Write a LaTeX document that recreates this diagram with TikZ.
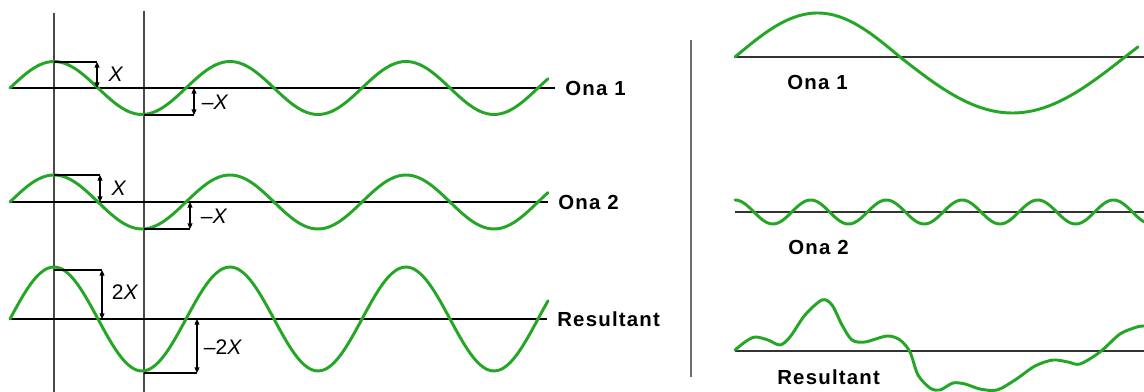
\documentclass[tikz,border=0pt]{standalone}
\usepackage{fontspec}
\setmainfont{Liberation Sans}
\usetikzlibrary{arrows.meta}
\definecolor{wavegreen}{HTML}{26A626}
\definecolor{axisgray}{HTML}{333333}
\definecolor{guidegray}{HTML}{4A4A4A}
\tikzset{wave/.style={wavegreen,line width=2.1pt,line join=round,line cap=round},
 axisline/.style={black,line width=2pt},
 thinaxis/.style={axisgray,line width=1.4pt},
 guide/.style={guidegray,line width=1pt},
 bracket/.style={black,line width=.9pt},
 ampmeasure/.style={bracket,{Triangle[length=4pt,width=3.5pt]}-{Triangle[length=4pt,width=3.5pt]}},
 wavelabel/.style={anchor=west,inner sep=0pt,text=black,
 font=\fontsize{14.5}{16}\selectfont\bfseries\addfontfeature{LetterSpace=6}},
 amplabel/.style={inner sep=0pt,text=black,font=\fontsize{15}{17}\selectfont}}
\newcommand{\leftwave}[5]{%
 \coordinate (#1s) at (10,#2);
 \coordinate (#1e) at (#4,#2);
 \draw[axisline] (#1s) -- (#1e);
 \draw[wave] plot[domain=10:548,samples=160] (\x,{#2-#3*sin(2.04545*(\x-10))});
 \node[wavelabel] (#1lab) at ([xshift=.25cm]#1e) {#5};}
\newcommand{\ampmark}[7]{%
 \coordinate (#1p) at (#2,#3);
 \coordinate (#1t) at (#4,#3);
 \coordinate (#1a) at (#4,#5);
 \draw[bracket] (#1p) -- (#1t);
 \draw[ampmeasure] (#1t) -- (#1a);
 \node[amplabel] (#1lab) at #6 {#7};}

\begin{document}
\begin{tikzpicture}[x=.025cm,y=-.025cm]
 \useasboundingbox (0,0) rectangle (1144,392);
 \begin{scope}
  \coordinate (g1t) at (54,13);
  \coordinate (g1b) at (54,392);
  \coordinate (g2t) at (144,11);
  \coordinate (g2b) at (144,392);
  \draw[guide] (g1t) -- (g1b) (g2t) -- (g2b);
  \leftwave{a}{88}{26.5}{555}{Ona 1}
  \leftwave{b}{202}{27}{548}{Ona 2}
  \leftwave{c}{319}{52}{547}{Resultant}
  \ampmark{ap}{54}{62}{97}{88}{(116,74)}{\textit{X}}
  \ampmark{an}{144}{115}{194}{88}{(215,102)}{\textendash\textit{X}}
  \ampmark{bp}{54}{175}{100}{202}{(119,188)}{\textit{X}}
  \ampmark{bn}{144}{229}{190}{202}{(214,216)}{\textendash\textit{X}}
  \ampmark{cp}{54}{270}{102}{319}{(125,292)}{2\textit{X}}
  \ampmark{cn}{144}{373}{197}{319}{(223,347)}{\textendash2\textit{X}}
 \end{scope}
 \coordinate (divt) at (691,40);
 \coordinate (divb) at (691,377);
 \draw[guide,guidegray!80] (divt) -- (divb);
 \begin{scope}
  \coordinate (r1s) at (735,57);
  \coordinate (r1e) at (1144,57);
  \coordinate (r2s) at (735,212);
  \coordinate (r2e) at (1144,212);
  \coordinate (r3s) at (735,351);
  \coordinate (r3e) at (1144,351);
  \draw[thinaxis] (r1s) -- (r1e) (r2s) -- (r2e) (r3s) -- (r3e);
  \draw[wave] plot[domain=735:900,samples=80] (\x,{57-44*sin(1.0909*(\x-735))})
   -- plot[domain=900:1138,samples=110] (\x,{57+56*sin(.8*(\x-900))});
  \draw[wave] plot[domain=735:1144,samples=200] (\x,{212-12*cos(4.7556*(\x-735))});
  \draw[wave] plot[smooth] coordinates {(735,350) (745,342) (755,337) (768,340)
   (780,345) (790,337) (805,315) (822,300) (832,305) (842,325) (852,340)
   (865,342) (887,336) (900,340) (910,352) (918,375) (930,388) (940,390)
   (953,383) (965,384) (980,389) (997,390) (1015,380) (1035,366) (1053,360)
   (1068,362) (1080,364) (1100,352) (1120,334) (1137,327) (1144,326)};
  \node[wavelabel] (r1lab) at (787,82) {Ona 1};
  \node[wavelabel] (r2lab) at (788,247) {Ona 2};
  \node[wavelabel] (r3lab) at (777,377) {Resultant};
 \end{scope}
\end{tikzpicture}
\end{document}
